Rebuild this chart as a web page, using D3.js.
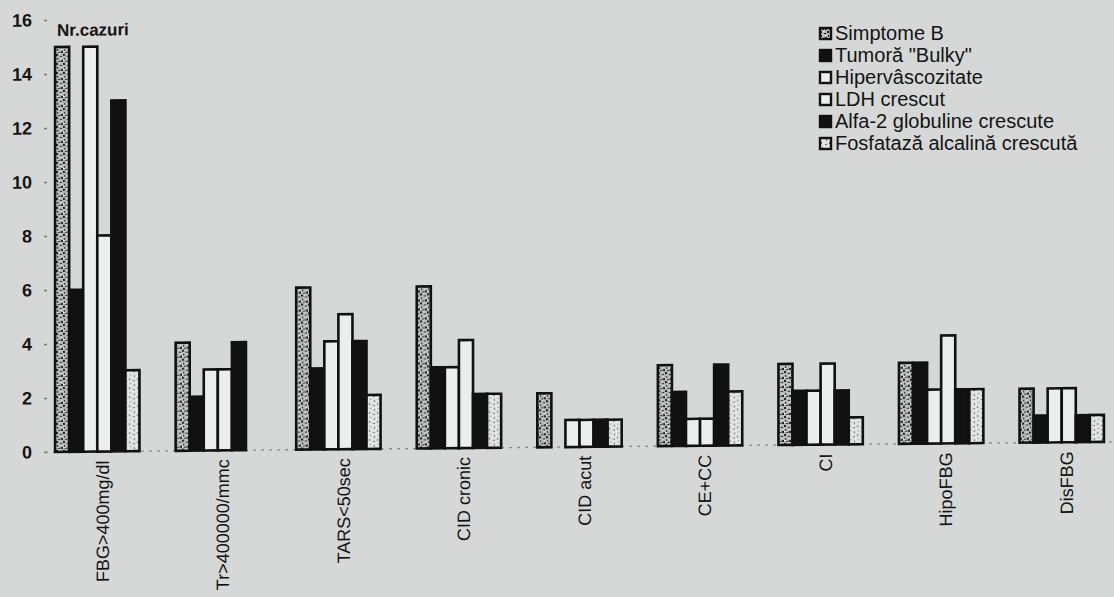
<!DOCTYPE html>
<html>
<head>
<meta charset="utf-8">
<script src="https://cdn.jsdelivr.net/npm/d3@7"></script>
<style>
  body { margin: 0; background: #d5d8d6; }
  svg text { font-family: Arial, "Liberation Sans", sans-serif; fill: #141414; }
</style>
</head>
<body>
<div class="svg-container"></div>
<script>
// chart data
const categories = ['FBG>400mg/dl', 'Tr>400000/mmc', 'TARS<50sec', 'CID cronic', 'CID acut', 'CE+CC', 'CI', 'HipoFBG', 'DisFBG'];
const seriesNames = ['Simptome B', 'Tumoră "Bulky"', 'Hipervâscozitate', 'LDH crescut', 'Alfa-2  globuline crescute', 'Fosfatază alcalină crescută'];
const simptomeB = [15, 4, 6, 6, 2, 3, 3, 3, 2];
const tumoraBulky = [6, 2, 3, 3, 0, 2, 2, 3, 1];
const hipervascozitate = [15, 3, 4, 3, 1, 1, 2, 2, 2];
const ldhCrescut = [8, 3, 5, 4, 1, 1, 3, 4, 2];
const alfa2 = [13, 4, 4, 2, 1, 3, 2, 2, 1];
const fosfataza = [3, 0, 2, 2, 1, 2, 1, 2, 1];
const yTicks = [0, 2, 4, 6, 8, 10, 12, 14, 16];

const renderChart = () => {
  const width = 1114;
  const height = 597;
  const seriesValues = [simptomeB, tumoraBulky, hipervascozitate, ldhCrescut, alfa2, fosfataza];
  const fills = ['url(#patSimp)', '#111', '#eceeed', '#eceeed', '#111', 'url(#patFosf)'];

  const svg = d3.select('.svg-container')
    .append('svg')
    .attr('width', width)
    .attr('height', height);

  svg.append('rect')
    .attr('width', width)
    .attr('height', height)
    .style('fill', '#d5d8d6');

  // speckled fills like the scanned hatch patterns
  const defs = svg.append('defs');
  const simp = defs.append('pattern')
    .attr('id', 'patSimp')
    .attr('patternUnits', 'userSpaceOnUse')
    .attr('width', 7).attr('height', 9);
  simp.append('rect').attr('width', 7).attr('height', 9).style('fill', '#b9bbba');
  [[0, 0, 2, 2], [4, 2, 2, 1], [1, 4, 1, 2], [5, 6, 2, 2], [2, 7, 2, 1]].forEach(d => {
    simp.append('rect').attr('x', d[0]).attr('y', d[1]).attr('width', d[2]).attr('height', d[3]).style('fill', '#1a1a1a');
  });
  [[3, 0, 1, 1], [0, 6, 2, 1], [5, 4, 1, 1]].forEach(d => {
    simp.append('rect').attr('x', d[0]).attr('y', d[1]).attr('width', d[2]).attr('height', d[3]).style('fill', '#f2f2f2');
  });

  const fosf = defs.append('pattern')
    .attr('id', 'patFosf')
    .attr('patternUnits', 'userSpaceOnUse')
    .attr('width', 8).attr('height', 9);
  fosf.append('rect').attr('width', 8).attr('height', 9).style('fill', '#e2e4e3');
  [[1, 1, 1, 2], [5, 3, 2, 1], [2, 6, 1, 1], [6, 7, 1, 2]].forEach(d => {
    fosf.append('rect').attr('x', d[0]).attr('y', d[1]).attr('width', d[2]).attr('height', d[3]).style('fill', '#6a6a6a');
  });

  // the scan is slightly tilted: right side sits ~10px higher
  const plot = svg.append('g')
    .attr('transform', 'translate(0,0.5) skewY(-0.55)');

  const x = d3.scaleBand()
    .domain(categories)
    .range([37, 1122])
    .paddingInner(0.3)
    .paddingOuter(0.15);

  const xs = d3.scaleBand()
    .domain(d3.range(seriesNames.length))
    .range([0, x.bandwidth()]);

  const y = d3.scaleLinear()
    .domain([0, 16])
    .range([452, 20]);

  // dotted baseline
  plot.append('line')
    .attr('x1', 45).attr('x2', 1112)
    .attr('y1', y(0)).attr('y2', y(0))
    .attr('stroke', '#8c8c8c')
    .attr('stroke-width', 1.3)
    .attr('stroke-dasharray', '3 5');

  // y axis, ticks only
  const yAxis = plot.append('g')
    .attr('transform', 'translate(47,0)')
    .call(d3.axisLeft(y).tickValues(yTicks).tickSize(3).tickPadding(12));
  yAxis.select('.domain').remove();
  yAxis.selectAll('line').attr('stroke', '#7a7a7a').attr('stroke-width', 1.5);
  yAxis.selectAll('text')
    .style('font-size', '18px')
    .style('font-weight', 'bold')
    .attr('fill', '#141414');

  plot.append('text')
    .attr('x', 57)
    .attr('y', 36)
    .style('font-size', '17px')
    .style('font-weight', 'bold')
    .text('Nr.cazuri');

  // bars
  const bars = [];
  categories.forEach((c, ci) => {
    seriesValues.forEach((vals, si) => {
      if (vals[ci] > 0) bars.push({ c, si, v: vals[ci] });
    });
  });

  plot.append('g')
    .selectAll('rect')
    .data(bars)
    .enter()
    .append('rect')
    .attr('x', d => x(d.c) + xs(d.si))
    .attr('y', d => y(d.v))
    .attr('width', xs.bandwidth())
    .attr('height', d => y(0) - y(d.v))
    .style('fill', d => fills[d.si])
    .attr('stroke', '#111')
    .attr('stroke-width', 2.6);

  // category labels, rotated
  plot.append('g')
    .selectAll('text')
    .data(categories)
    .enter()
    .append('text')
    .attr('transform', d => `translate(${x(d) + x.bandwidth() / 2 + 5},${y(0) + 9}) rotate(-90)`)
    .attr('dy', '0.35em')
    .attr('text-anchor', 'end')
    .style('font-size', '18px')
    .text(d => d);

  // legend
  const legend = svg.append('g')
    .selectAll('g')
    .data(seriesNames)
    .enter()
    .append('g')
    .attr('transform', (d, i) => `translate(820,${40 + i * 22})`);

  legend.append('rect')
    .attr('x', 0)
    .attr('y', -12)
    .attr('width', 11)
    .attr('height', 11)
    .style('fill', (d, i) => fills[i])
    .attr('stroke', '#111')
    .attr('stroke-width', 2.4);

  legend.append('text')
    .attr('x', 15)
    .attr('y', 0)
    .style('font-size', '20px')
    .text(d => d);
};

renderChart();
</script>
</body>
</html>
